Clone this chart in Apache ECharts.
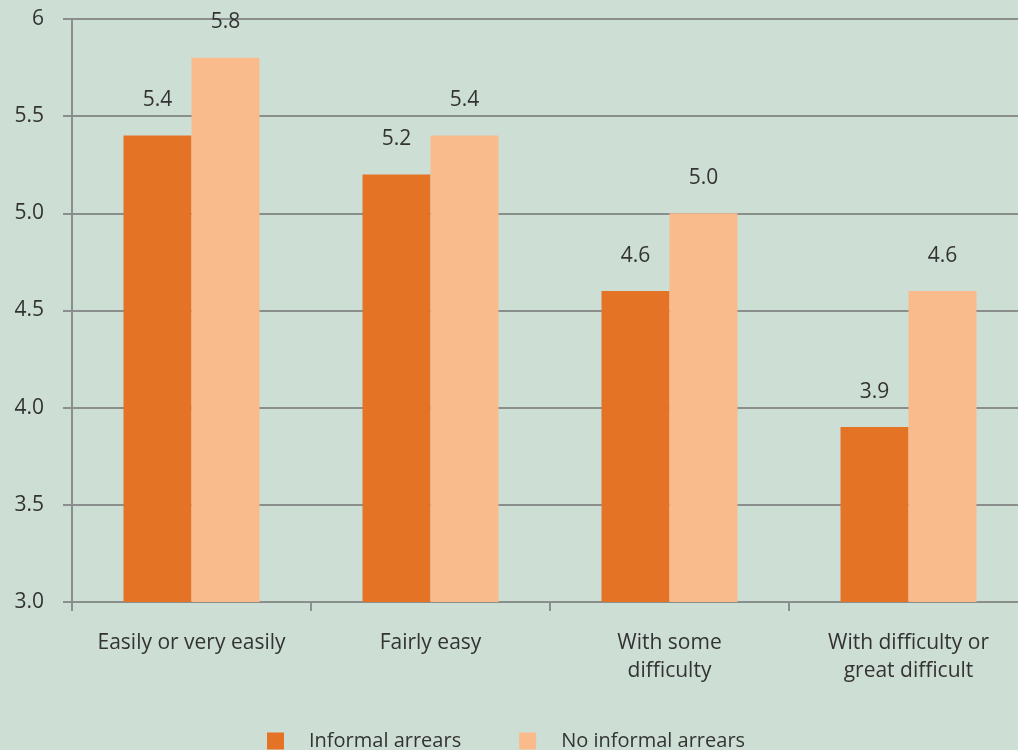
<!DOCTYPE html>
<html>
<head>
<meta charset="utf-8">
<script src="https://cdn.jsdelivr.net/npm/echarts@6/dist/echarts.min.js"></script>
<style>
html,body{margin:0;padding:0;background:#cddfd5;overflow:hidden;width:1018px;height:750px;}
#chart{width:1028px;height:750px;}
</style>
</head>
<body>
<div id="chart"></div>
<script>
const categories = ["Easily or very easily", "Fairly easy", "With some\ndifficulty", "With difficulty or\ngreat difficult"];
const informalArrears = [5.4, 5.2, 4.6, 3.9];
const noInformalArrears = [5.8, 5.4, 5.0, 4.6];
const seriesNames = ["Informal arrears", "No informal arrears"];

const FONT = "'Open Sans', 'Noto Sans', sans-serif";
const TXT = '#333333';
const AXIS = '#8a8f8d';

const chart = echarts.init(document.getElementById('chart'));
chart.setOption({
  backgroundColor: '#cddfd5',
  animation: false,
  textStyle: {fontFamily: FONT},
  grid: {left: 72, right: 0, top: 19, bottom: 148, containLabel: false},
  legend: {
    bottom: -1,
    left: 267,
    padding: 0,
    itemWidth: 17,
    itemHeight: 17,
    itemGap: 58,
    icon: 'rect',
    textStyle: {fontFamily: FONT, fontSize: 20, color: TXT, padding: [0, 0, 0, 20]},
    data: seriesNames
  },
  xAxis: {
    type: 'category',
    data: categories,
    axisLine: {show: true, lineStyle: {color: AXIS, width: 2}},
    axisTick: {show: true, length: 9, lineStyle: {color: AXIS, width: 2}, alignWithLabel: false},
    axisLabel: {fontFamily: FONT, fontSize: 21, color: TXT, margin: 27, lineHeight: 28, interval: 0}
  },
  yAxis: {
    type: 'value',
    min: 3,
    max: 6,
    interval: 0.5,
    axisLine: {show: true, lineStyle: {color: AXIS, width: 2}},
    axisTick: {show: true, length: 9, lineStyle: {color: AXIS, width: 2}},
    splitLine: {show: true, lineStyle: {color: AXIS, width: 2}},
    axisLabel: {
      fontFamily: FONT, fontSize: 21, color: TXT, margin: 28,
      formatter: v => (v === 6 ? '6' : v.toFixed(1))
    }
  },
  series: [
    {
      name: seriesNames[0], type: 'bar', data: informalArrears,
      barWidth: 68, barGap: '0%',
      itemStyle: {color: '#e57326'},
      label: {show: true, position: 'top', distance: 25, fontFamily: FONT, fontSize: 21, color: TXT, formatter: p => p.value.toFixed(1)}
    },
    {
      name: seriesNames[1], type: 'bar', data: noInformalArrears,
      barWidth: 68, barGap: '0%',
      itemStyle: {color: '#f9bb8b'},
      label: {show: true, position: 'top', distance: 25, fontFamily: FONT, fontSize: 21, color: TXT, formatter: p => p.value.toFixed(1)}
    }
  ]
});
</script>
</body>
</html>
